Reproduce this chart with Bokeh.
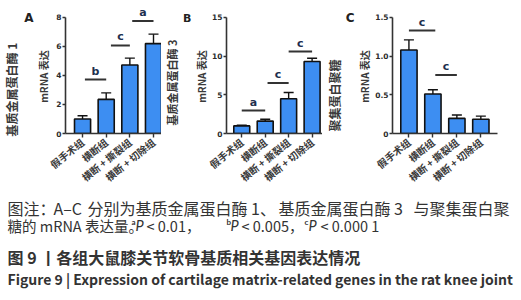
from bokeh.plotting import figure
from bokeh.models import (Range1d, FixedTicker, LinearAxis, ColumnDataSource,
                          Whisker, TeeHead)
from bokeh.layouts import row, column
from bokeh.core.properties import value
from bokeh.embed import file_html
from bokeh.resources import INLINE

groups = ["假手术组", "横断组", "横断 + 撕裂组", "横断 + 切除组"]
xpos = [1, 2, 3, 4]

mmp1_mean = [1.0, 2.35, 4.72, 6.2]
mmp1_sd = [0.22, 0.45, 0.48, 0.65]
mmp3_mean = [0.98, 1.6, 4.5, 9.3]
mmp3_sd = [0.08, 0.25, 0.8, 0.42]
acan_mean = [1.08, 0.51, 0.195, 0.185]
acan_sd = [0.13, 0.055, 0.045, 0.04]

mmp1_sig_x0 = [1.1, 2.2, 3.1]
mmp1_sig_x1 = [2.0, 3.0, 4.0]
mmp1_sig_y = [3.72, 6.07, 7.75]
mmp1_sig_txt = ["b", "c", "a"]
mmp3_sig_x0 = [1.0, 2.1, 3.0]
mmp3_sig_x1 = [2.0, 3.0, 4.0]
mmp3_sig_y = [2.97, 6.52, 10.6]
mmp3_sig_txt = ["a", "c", "c"]
acan_sig_x0 = [1.0, 2.1]
acan_sig_x1 = [2.1, 3.0]
acan_sig_y = [1.33, 0.755]
acan_sig_txt = ["c", "c"]

mmp1_ticks = [0, 2, 4, 6, 8]
mmp1_tick_labels = ["0", "2", "4", "6", "8"]
mmp3_ticks = [0, 5, 10, 15]
mmp3_tick_labels = ["0", "5", "10", "15"]
acan_ticks = [0, 0.5, 1.0, 1.5]
acan_tick_labels = ["0", "0.5", "1.0", "1.5"]

CJK = "Noto Sans CJK SC"
LAT = "DejaVu Sans"
BAR = "#3d8ef2"
INK = "#2b2b2b"
H = 197
TOP, BOT = 9, 133          # frame top / bottom (px from figure top)
FH = BOT - TOP
PAD = "\u3000"             # ideographic space, nudges rotated axis titles downward


def panel(letter, mean, sd, ticks, labels, ymax_axis, ymax, bar1_px, pxu, title1,
          width, left, right, sx0, sx1, sy, stxt, s_in, s2,
          letter_size, title_size, title_pad, mrna_pad):
    frame_w = width - left - right
    x0 = 1 - bar1_px / pxu
    p = figure(width=width, height=H, output_backend="svg", toolbar_location=None,
               x_range=Range1d(x0, x0 + frame_w / pxu), y_range=Range1d(0, ymax),
               min_border_left=left, min_border_right=right, min_border_top=TOP,
               min_border_bottom=H - BOT)
    p.outline_line_color = None
    p.grid.grid_line_color = None

    src = ColumnDataSource(dict(x=xpos, top=mean, upper=[m + s for m, s in zip(mean, sd)],
                                lower=[m - s for m, s in zip(mean, sd)]))
    p.vbar(x="x", top="top", width=0.68, bottom=0, source=src, fill_color=BAR,
           line_color="#111111", line_width=1.6)
    w = Whisker(base="x", upper="upper", lower="lower", source=src,
                line_color="#111111", line_width=1.4,
                upper_head=TeeHead(size=10, line_color="#111111", line_width=1.4),
                lower_head=TeeHead(size=10, line_color="#111111", line_width=1.4))
    p.add_layout(w)

    ssrc = ColumnDataSource(dict(x0=sx0, x1=sx1, y=sy, t=stxt,
                                 xm=[(a + b) / 2 for a, b in zip(sx0, sx1)]))
    p.segment(x0="x0", x1="x1", y0="y", y1="y", source=ssrc, line_color="#333333",
              line_width=2)
    p.text(x="xm", y="y", text="t", source=ssrc, text_font=value(LAT),
           text_font_style="bold", text_font_size="11px", text_color="#1e2f4f",
           text_align="center", text_baseline="bottom", y_offset=-2)

    ya = p.yaxis[0]
    ya.ticker = FixedTicker(ticks=ticks)
    ya.major_label_overrides = {t: l for t, l in zip(ticks, labels)}
    ya.bounds = (0, ymax_axis)
    ya.axis_line_color = "#333333"
    ya.axis_line_width = 1.6
    ya.major_tick_line_color = "#333333"
    ya.major_tick_line_width = 1.4
    ya.major_tick_out = 3
    ya.major_tick_in = 0
    ya.minor_tick_line_color = None
    ya.major_label_text_font = LAT
    ya.major_label_text_font_style = "bold"
    ya.major_label_text_font_size = "7.5px"
    ya.major_label_text_color = INK
    ya.major_label_standoff = 1
    ya.axis_label = "mRNA 表达" + PAD * mrna_pad
    ya.axis_label_text_font = CJK
    ya.axis_label_text_font_style = "bold"
    ya.axis_label_text_font_size = "10px"
    ya.axis_label_text_color = "#3a3a3a"
    ya.axis_label_standoff = s_in

    # outer left axis: carries the panel letter (as a tick label) and the gene title
    letter_y = ymax * (BOT - 17.5) / FH
    outer = LinearAxis(ticker=FixedTicker(ticks=[letter_y]),
                       major_label_overrides={letter_y: letter},
                       axis_line_color=None, major_tick_line_color=None,
                       major_tick_out=0, major_tick_in=0, minor_tick_line_color=None,
                       major_label_text_font=LAT, major_label_text_font_style="bold",
                       major_label_text_font_size=letter_size,
                       major_label_text_color="#222222",
                       major_label_standoff=0,
                       axis_label=title1 + PAD * title_pad, axis_label_text_font=CJK,
                       axis_label_text_font_style="bold",
                       axis_label_text_font_size=title_size,
                       axis_label_text_color="#3a3a3a", axis_label_standoff=s2)
    p.add_layout(outer, "left")

    xa = p.xaxis[0]
    xa.ticker = FixedTicker(ticks=xpos)
    xa.major_label_overrides = {x: g for x, g in zip(xpos, groups)}
    xa.major_label_orientation = 0.68
    xa.axis_line_color = "#333333"
    xa.axis_line_width = 1.6
    xa.major_tick_line_color = "#333333"
    xa.major_tick_line_width = 1.4
    xa.major_tick_out = 4
    xa.major_tick_in = 0
    xa.minor_tick_line_color = None
    xa.major_label_text_font = CJK
    xa.major_label_text_font_style = "bold"
    xa.major_label_text_font_size = "10px"
    xa.major_label_text_color = "#3a3a3a"
    xa.major_label_standoff = 3
    return p


# figure spans: A 0-161, B 161-322, C 322-521
pA = panel("A", mmp1_mean, mmp1_sd, mmp1_ticks, mmp1_tick_labels,
           8, 8.55, 19, 116 / 4.4, "基质金属蛋白酶 1", 161, 54, 0,
           mmp1_sig_x0, mmp1_sig_x1, mmp1_sig_y, mmp1_sig_txt, 2, 1,
           "12px", "12px", 3, 1)
pB = panel("B", mmp3_mean, mmp3_sd, mmp3_ticks, mmp3_tick_labels,
           15, 16.03, 17, 115 / 4.4, "基质金属蛋白酶 3", 161, 54, 0,
           mmp3_sig_x0, mmp3_sig_x1, mmp3_sig_y, mmp3_sig_txt, 0, 0,
           "11px", "11px", 2, 1)
pC = panel("C", acan_mean, acan_sd, acan_ticks, acan_tick_labels,
           1.5, 1.603, 18.3, 117 / 4.38, "聚集蛋白聚糖", 199, 58, 24,
           acan_sig_x0, acan_sig_x1, acan_sig_y, acan_sig_txt, 0, 0,
           "12px", "12px", 4, 1)

cap_text = ["图注：", "A–C", "分别为基质金属蛋白酶 1、", "基质金属蛋白酶 3", "与聚集蛋白聚",
            "糖的 mRNA 表达量。", "< 0.01，", "< 0.005，", "< 0.000 1",
            "图 9 丨各组大鼠膝关节软骨基质相关基因表达情况",
            "Figure 9  |  Expression of cartilage matrix-related genes in the rat knee joint"]
cap_x = [7, 53, 87, 278, 413, 7, 146, 241, 320, 7, 7]
cap_y = [10.5, 10.5, 10.5, 10.5, 10.5, 28, 28, 28, 28, 59, 81]
cap_style = ["normal"] * 9 + ["bold", "bold"]
cap_size = ["16px"] * 5 + ["14.5px"] * 4 + ["16px", "14px"]

sup_text = ["a", "b", "c"]
sup_x = [131, 226, 304]
p_x = [135, 230, 308]

cap = figure(width=521, height=300 - H, output_backend="svg", toolbar_location=None,
             x_range=Range1d(0, 521), y_range=Range1d(300 - H, 0), min_border=0)
cap.axis.visible = False
cap.grid.grid_line_color = None
cap.outline_line_color = None
cs = ColumnDataSource(dict(x=cap_x, y=cap_y, t=cap_text, s=cap_style, fs=cap_size))
cap.text(x="x", y="y", text="t", source=cs, text_font=value(CJK),
         text_font_style="s", text_font_size="fs", text_color="#333333",
         text_baseline="middle", text_align="left")
cap.text(x=sup_x, y=[24] * 3, text=sup_text, text_font=value("Lato"),
         text_font_style="bold", text_font_size="8px", text_color="#333333",
         text_baseline="middle", text_align="left")
cap.text(x=p_x, y=[28] * 3, text=["P"] * 3, text_font=value("Lato"),
         text_font_style="italic", text_font_size="14.5px", text_color="#333333",
         text_baseline="middle", text_align="left")

layout = column(row(pA, pB, pC), cap)
open("out.html", "w").write(file_html(layout, INLINE))
